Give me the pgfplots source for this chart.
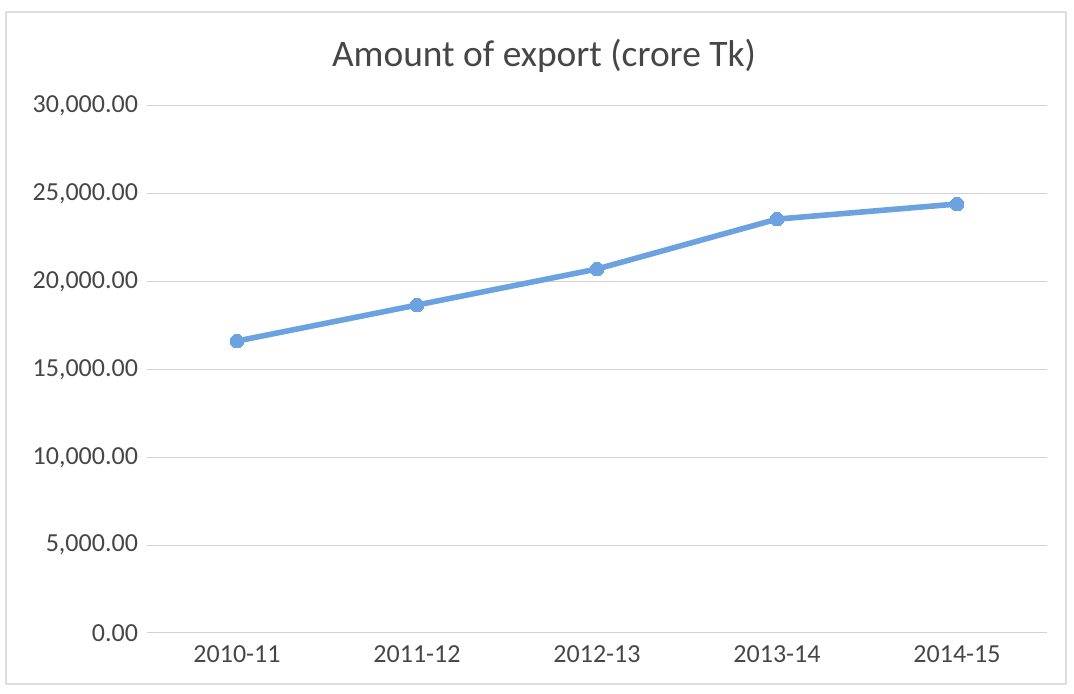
\documentclass[border=0pt]{standalone}
\usepackage{fontspec}
\setmainfont{Carlito}
\usepackage{pgfplots}
\pgfplotsset{compat=1.18}
\definecolor{lineblue}{RGB}{108,162,224}
\definecolor{txt}{RGB}{70,70,70}
\begin{document}
\begin{tikzpicture}
\useasboundingbox (0,0) rectangle (537pt,347pt);
\draw[gray!25, line width=0.6pt] (3pt,5pt) rectangle (533pt,341pt);
\node[font=\fontsize{18.7}{22}\selectfont, text=txt] at (272pt,319pt) {Amount of export (crore Tk)};
\begin{axis}[
  at={(73.5pt,30.5pt)}, anchor=south west,
  scale only axis, width=450pt, height=263.5pt,
  xmin=-0.5, xmax=4.5, ymin=0, ymax=30000,
  xtick={0,1,2,3,4}, xticklabels={2010-11,2011-12,2012-13,2013-14,2014-15},
  ytick={0,5000,10000,15000,20000,25000,30000},
  axis line style={draw=none}, major tick length=0pt,
  ymajorgrids, grid style={gray!35, line width=0.5pt},
  tick label style={font=\fontsize{13}{15}\selectfont, text=txt},
  x tick label style={yshift=-3pt},
  y tick label style={xshift=-1pt},
  /pgf/number format/assume math mode=true,
  yticklabel style={/pgf/number format/.cd, fixed, fixed zerofill, precision=2, 1000 sep={,}},
  scaled y ticks=false,
  clip=false,
]
\addplot[lineblue, line width=2.8pt, mark=*, mark size=3.4pt, mark options={fill=lineblue, draw=lineblue, line width=0pt}]
  coordinates {(0,16620)(1,18670)(2,20720)(3,23560)(4,24420)};
\end{axis}
\end{tikzpicture}
\end{document}
